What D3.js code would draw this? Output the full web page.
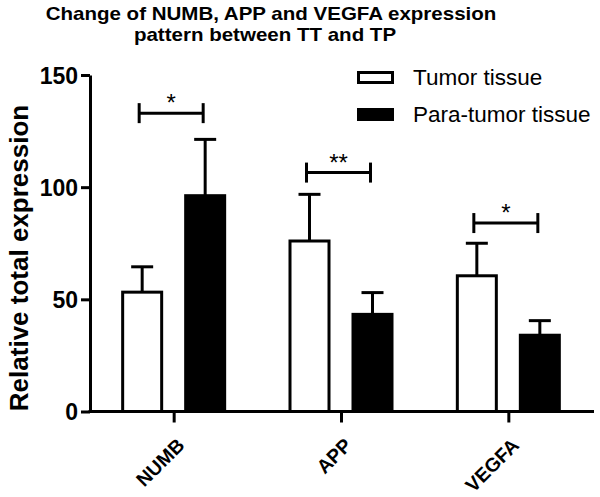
<!DOCTYPE html>
<html>
<head>
<meta charset="utf-8">
<script src="https://cdn.jsdelivr.net/npm/d3@7"></script>
<style>
  html, body { margin: 0; padding: 0; background: #fff; }
  svg { display: block; font-family: "Liberation Sans", Arial, sans-serif; }
</style>
</head>
<body>
<svg id="chart" width="600" height="497"></svg>
<script>
const categories = ["NUMB", "APP", "VEGFA"];
const seriesNames = ["Tumor tissue", "Para-tumor tissue"];
const tumorMean = [53.2, 76.0, 60.5];
const tumorErr = [11.3, 20.8, 14.5];
const paraMean = [96.2, 43.3, 34.0];
const paraErr = [25.1, 9.7, 6.5];
const sigLabels = ["*", "**", "*"];
const sigLevel = [133, 106.5, 84];
const yTicks = [0, 50, 100, 150];
const titleLines = ["Change of NUMB, APP and VEGFA expression", "pattern between TT and TP"];
const yLabel = "Relative total expression";

const svg = d3.select("#chart");
const x0 = d3.scalePoint().domain(categories).range([90, 592]).padding(0.5);
const x1 = d3.scaleBand().domain(["tumor", "para"]).range([-52.5, 52.5]).paddingInner(1/3).paddingOuter(0);
const y = d3.scaleLinear().domain([0, 150]).range([411.5, 75]);

// Title (slightly widened glyphs, as in the reference)
const titleX = [271, 265];
svg.append("g").selectAll("text").data(titleLines).join("text")
  .attr("transform", (d, i) => `translate(${titleX[i]},${20 + i * 21}) scale(1.14,1)`)
  .attr("text-anchor", "middle")
  .attr("font-size", 18).attr("font-weight", "bold")
  .text(d => d);

// Y axis label
svg.append("text")
  .attr("transform", "translate(28,258) rotate(-90)")
  .attr("text-anchor", "middle")
  .attr("font-size", 26).attr("font-weight", "bold")
  .text(yLabel);

const data = categories.map((c, i) => ({
  cat: c,
  bars: [
    { key: "tumor", v: tumorMean[i], e: tumorErr[i] },
    { key: "para", v: paraMean[i], e: paraErr[i] }
  ]
}));

const sw = 3;
const g = svg.append("g");
const groups = g.selectAll("g.cat").data(data).join("g")
  .attr("transform", d => `translate(${x0(d.cat)},0)`);

// error bars (upward only)
groups.selectAll("g.err").data(d => d.bars).join("g").each(function(d) {
  const cx = x1(d.key) + x1.bandwidth() / 2;
  const sel = d3.select(this);
  sel.append("line").attr("x1", cx).attr("x2", cx)
    .attr("y1", y(d.v)).attr("y2", y(d.v + d.e))
    .attr("stroke", "#000").attr("stroke-width", sw);
  sel.append("line").attr("x1", cx - 11).attr("x2", cx + 11)
    .attr("y1", y(d.v + d.e)).attr("y2", y(d.v + d.e))
    .attr("stroke", "#000").attr("stroke-width", sw);
});

groups.selectAll("rect").data(d => d.bars).join("rect")
  .attr("x", d => x1(d.key) + sw / 2)
  .attr("width", x1.bandwidth() - sw)
  .attr("y", d => y(d.v))
  .attr("height", d => y(0) - y(d.v))
  .attr("fill", d => d.key === "tumor" ? "#fff" : "#000")
  .attr("stroke", "#000").attr("stroke-width", sw);

// significance brackets
groups.each(function(d, i) {
  const sel = d3.select(this);
  const xa = x1("tumor") + x1.bandwidth() / 2 - 3;
  const xb = x1("para") + x1.bandwidth() / 2 - 2;
  const yy = y(sigLevel[i]);
  sel.append("line").attr("x1", xa).attr("x2", xb).attr("y1", yy).attr("y2", yy)
    .attr("stroke", "#000").attr("stroke-width", sw);
  [xa, xb].forEach(xx => sel.append("line").attr("x1", xx).attr("x2", xx)
    .attr("y1", yy - 10).attr("y2", yy + 10).attr("stroke", "#000").attr("stroke-width", sw));
  sel.append("text").attr("x", (xa + xb) / 2).attr("y", yy - 2)
    .attr("text-anchor", "middle").attr("font-size", 24)
    .text(sigLabels[i]);
});

// Y axis
const yAxis = svg.append("g").attr("transform", "translate(90,0)")
  .call(d3.axisLeft(y).tickValues(yTicks).tickSize(9).tickPadding(3).tickSizeOuter(0));
yAxis.select(".domain").attr("stroke-width", sw);
yAxis.selectAll(".tick line").attr("stroke-width", sw);
yAxis.selectAll(".tick text").attr("font-size", 23).attr("font-weight", "bold")
  .attr("font-family", "Liberation Sans, Arial, sans-serif").attr("fill", "#000").attr("dy", "0.36em");

// X axis
const xAxis = svg.append("g").attr("transform", `translate(0,${y(0)})`)
  .call(d3.axisBottom(x0).tickSize(11).tickSizeOuter(0).tickFormat(""));
xAxis.select(".domain").attr("d", "M88.5,0H594").attr("stroke-width", sw);
xAxis.selectAll(".tick line").attr("stroke-width", sw);
svg.append("g").selectAll("text").data(categories).join("text")
  .attr("transform", d => `translate(${x0(d) + 12},${y(0) + 35}) rotate(-45)`)
  .attr("text-anchor", "end")
  .attr("font-size", 19.5).attr("font-weight", "bold")
  .text(d => d);

// Legend
const leg = svg.append("g").selectAll("g").data(seriesNames).join("g")
  .attr("transform", (d, i) => `translate(357,${71 + i * 37})`);
leg.append("rect").attr("x", 1.5).attr("y", 1.5).attr("width", 34).attr("height", 10)
  .attr("fill", (d, i) => i === 0 ? "#fff" : "#000")
  .attr("stroke", "#000").attr("stroke-width", sw);
leg.append("text").attr("x", 56).attr("y", 14)
  .attr("font-size", 22.5).text(d => d);
</script>
</body>
</html>
